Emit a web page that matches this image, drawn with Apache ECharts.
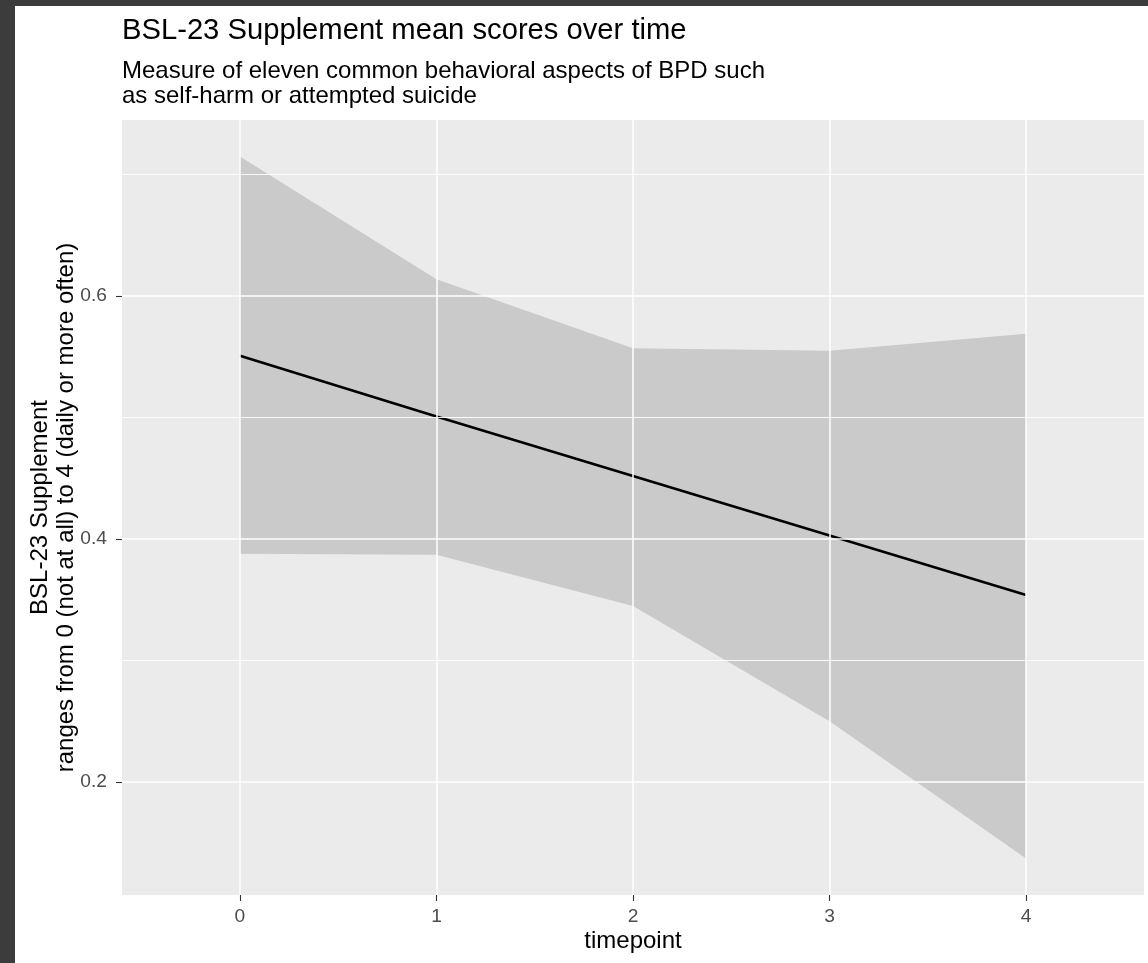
<!DOCTYPE html>
<html>
<head>
<meta charset="utf-8">
<script src="https://cdn.jsdelivr.net/npm/echarts@6/dist/echarts.min.js"></script>
<style>
  html, body { margin: 0; padding: 0; width: 1148px; height: 963px; background: #3c3c3c; overflow: hidden; }
  #chart { position: absolute; left: 15px; top: 6px; width: 1133px; height: 957px; background: #ffffff; }
</style>
</head>
<body>
<div id="chart"></div>
<script>
// ---- data ----
const timepoints = [0, 1, 2, 3, 4];
const fitValues = [0.551, 0.501, 0.452, 0.403, 0.354];
const upperValues = [0.715, 0.614, 0.557, 0.555, 0.569];
const lowerValues = [0.388, 0.387, 0.345, 0.250, 0.137];
const xTicks = [0, 1, 2, 3, 4];
const yMajorTicks = [0.2, 0.4, 0.6];
const yMinorTicks = [0.3, 0.5, 0.7];
const titleText = 'BSL-23 Supplement mean scores over time';
const subtitleText = 'Measure of eleven common behavioral aspects of BPD such\nas self-harm or attempted suicide';
const xAxisTitle = 'timepoint';
const yAxisTitle = 'BSL-23 Supplement\nranges from 0 (not at all) to 4 (daily or more often)';

const FONT = '"Liberation Sans", Arial, sans-serif';
const chart = echarts.init(document.getElementById('chart'), null, { renderer: 'canvas' });

const bandData = timepoints.map((t, i) => [t, lowerValues[i], upperValues[i]]);
const fitData = timepoints.map((t, i) => [t, fitValues[i]]);

const gridMarks = []
  .concat(xTicks.map(v => ({ xAxis: v, lineStyle: { width: 1.5 } })))
  .concat(yMajorTicks.map(v => ({ yAxis: v, lineStyle: { width: 1.5 } })))
  .concat(yMinorTicks.map(v => ({ yAxis: v, lineStyle: { width: 0.9 } })));

function renderBand(params, api) {
  if (params.dataIndex !== 0) return null;
  const upper = bandData.map(d => api.coord([d[0], d[2]]));
  const lower = bandData.map(d => api.coord([d[0], d[1]])).reverse();
  return {
    type: 'polygon',
    shape: { points: upper.concat(lower) },
    style: { fill: 'rgba(153,153,153,0.4)', stroke: null }
  };
}

chart.setOption({
  animation: false,
  backgroundColor: '#ffffff',
  title: [
    { text: titleText, left: 107, top: 9.9, padding: 0,
      textStyle: { fontFamily: FONT, fontSize: 29.2, fontWeight: 'normal', color: '#000000', lineHeight: 30 } },
    { text: subtitleText, left: 107, top: 53.2, padding: 0,
      textStyle: { fontFamily: FONT, fontSize: 24, fontWeight: 'normal', color: '#000000', lineHeight: 25 } }
  ],
  grid: { left: 107, top: 114, right: 4, bottom: 68, show: true, backgroundColor: '#EBEBEB', borderWidth: 0,
    containLabel: false, outerBoundsMode: 'none' },
  xAxis: {
    type: 'value', min: -0.6, max: 4.6,
    name: xAxisTitle, nameLocation: 'middle', nameGap: 34.6, nameMoveOverlap: false,
    nameTextStyle: { fontFamily: FONT, fontSize: 24, lineHeight: 24, color: '#000000' },
    axisLine: { show: false, onZero: false },
    axisTick: { show: true, length: 6, customValues: xTicks, lineStyle: { color: '#333333', width: 1.1 } },
    axisLabel: { show: true, customValues: xTicks, margin: 12.5, fontFamily: FONT, fontSize: 19.2, color: '#4D4D4D',
      formatter: v => String(v) },
    splitLine: { show: false }
  },
  yAxis: {
    type: 'value', min: 0.107, max: 0.745,
    name: yAxisTitle, nameLocation: 'middle', nameRotate: 90, nameGap: 43, nameMoveOverlap: false,
    nameTextStyle: { fontFamily: FONT, fontSize: 24, lineHeight: 26, color: '#000000', align: 'center' },
    axisLine: { show: false, onZero: false },
    axisTick: { show: true, length: 6, customValues: yMajorTicks, lineStyle: { color: '#333333', width: 1.1 } },
    axisLabel: { show: true, customValues: yMajorTicks, margin: 15, fontFamily: FONT, fontSize: 19.2, color: '#4D4D4D',
      formatter: v => v.toFixed(1) },
    splitLine: { show: false }
  },
  series: [
    {
      name: 'grid', type: 'line', data: [], z: 1, silent: true,
      markLine: { silent: true, symbol: 'none', label: { show: false }, animation: false,
        lineStyle: { color: '#ffffff', type: 'solid' }, data: gridMarks }
    },
    {
      name: 'band', type: 'custom', data: bandData, z: 2, silent: true,
      encode: { x: 0, y: [1, 2] },
      renderItem: renderBand
    },
    {
      name: 'fit', type: 'line', data: fitData, z: 3, silent: true,
      symbol: 'none', lineStyle: { color: '#000000', width: 2.6 }
    }
  ]
});
</script>
</body>
</html>
